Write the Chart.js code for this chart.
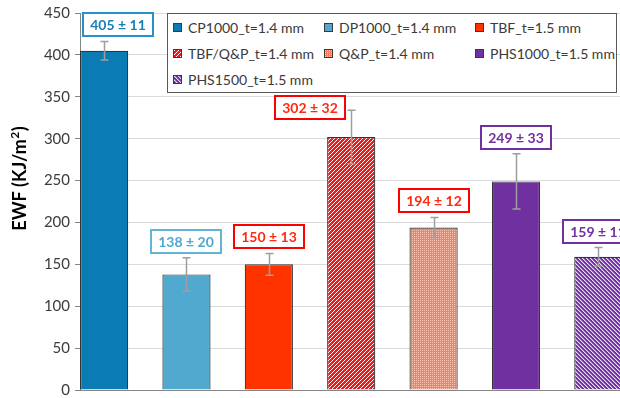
<!DOCTYPE html>
<html>
<head>
<meta charset="utf-8">
<script src="https://cdn.jsdelivr.net/npm/chart.js@4/dist/chart.umd.min.js"></script>
<style>
  html, body { margin: 0; padding: 0; background: #fff; overflow: hidden; }
  #wrap { position: relative; width: 620px; height: 398px; overflow: hidden; }
  #c { position: absolute; left: 0; top: 0; }
  #legend {
    position: absolute; left: 167px; top: 13px; width: 450px; height: 80px;
    box-sizing: border-box; border: 1px solid #595959; background: #fff;
    padding-left: 5px;
    display: grid; grid-template-columns: 151px 151px auto; grid-auto-rows: 26px;
    font: 14px Lato, sans-serif; color: #3a3a3a;
  }
  .item { display: flex; align-items: center; white-space: nowrap; }
  .sw { width: 7px; height: 7px; border: 1px solid #3a3a3a; margin-right: 6px; flex: none; }
</style>
</head>
<body>
<div id="wrap">
  <canvas id="c" width="656" height="398"></canvas>
  <div id="legend"></div>
</div>
<script>
// Steel grades and their essential work of fracture (kJ/m²) with scatter
const categories = ['CP1000_t=1.4 mm', 'DP1000_t=1.4 mm', 'TBF_t=1.5 mm', 'TBF/Q&P_t=1.4 mm',
                    'Q&P_t=1.4 mm', 'PHS1000_t=1.5 mm', 'PHS1500_t=1.5 mm'];
const ewf = [405, 138, 150, 302, 194, 249, 159];
const ewfError = [11, 20, 13, 32, 12, 33, 11];
const yTickValues = [0, 50, 100, 150, 200, 250, 300, 350, 400, 450];

// Fill tiles: solid colours and hatched patterns
function makeTile(base, size, pixel) {
  const c = document.createElement('canvas');
  c.width = c.height = size;
  const g = c.getContext('2d');
  g.fillStyle = base;
  g.fillRect(0, 0, size, size);
  if (pixel) {
    for (let y = 0; y < size; y++) {
      for (let x = 0; x < size; x++) {
        const col = pixel(x, y);
        if (col) { g.fillStyle = col; g.fillRect(x, y, 1, 1); }
      }
    }
  }
  return c;
}
const tiles = [
  makeTile('#0a7cb3', 4),
  makeTile('#51a9cf', 4),
  makeTile('#ff3300', 4),
  makeTile('#ff1414', 4, (x, y) => ((x + y) % 4 === 0 ? '#ffffff' : null)),
  makeTile('#ff7d5c', 4, (x, y) => ((x % 2 === 0 && y % 2 === 0) ? '#ffc2ae' : null)),
  makeTile('#7030a0', 4),
  makeTile('#7030a0', 4, (x, y) => {
    const k = (x - y + 8) % 4;
    return k === 0 ? '#e8dcf4' : (k === 1 ? '#a77bcf' : null);
  })
];
const cctx = document.getElementById('c').getContext('2d');
const fills = tiles.map(t => cctx.createPattern(t, 'repeat'));

const labelStyles = [
  { border: '#2791c9', text: '#1a7db5' },
  { border: '#62b4d9', text: '#4ea8d0' },
  { border: '#ff0000', text: '#ff2a10' },
  { border: '#ff0000', text: '#ff2a10' },
  { border: '#ff0000', text: '#ff2a10' },
  { border: '#7030a0', text: '#7030a0' },
  { border: '#7030a0', text: '#7030a0' }
];

// Legend
const legend = document.getElementById('legend');
categories.forEach((name, i) => {
  const item = document.createElement('div');
  item.className = 'item';
  const sw = document.createElement('span');
  sw.className = 'sw';
  sw.style.backgroundImage = 'url(' + tiles[i].toDataURL() + ')';
  const txt = document.createElement('span');
  txt.textContent = name;
  item.appendChild(sw);
  item.appendChild(txt);
  legend.appendChild(item);
});

// Error bars (value ± scatter)
const errorBars = {
  id: 'errorBars',
  afterDatasetsDraw(chart) {
    const { ctx, scales: { x, y } } = chart;
    ctx.save();
    ctx.strokeStyle = '#9e9e9e';
    ctx.lineWidth = 1.5;
    ewf.forEach((v, i) => {
      const px = Math.round(x.getPixelForValue(i)) + 0.5;
      const top = y.getPixelForValue(v + ewfError[i]);
      const bot = y.getPixelForValue(v - ewfError[i]);
      ctx.beginPath();
      ctx.moveTo(px, top); ctx.lineTo(px, bot);
      ctx.moveTo(px - 4, top); ctx.lineTo(px + 4, top);
      ctx.moveTo(px - 4, bot); ctx.lineTo(px + 4, bot);
      ctx.stroke();
    });
    ctx.restore();
  }
};

// Boxed value labels above the error bars; a box that would sit under the
// legend is moved below it, to the left of its error bar
const valueLabels = {
  id: 'valueLabels',
  afterDraw(chart) {
    const { ctx, chartArea, scales: { x, y } } = chart;
    const lg = legend.getBoundingClientRect();
    const cv = chart.canvas.getBoundingClientRect();
    const lgLeft = lg.left - cv.left, lgRight = lg.right - cv.left, lgBottom = lg.bottom - cv.top;
    ctx.save();
    ctx.font = 'bold 14px Lato, sans-serif';
    ctx.textAlign = 'center';
    ctx.textBaseline = 'middle';
    ewf.forEach((v, i) => {
      const text = v + ' \u00B1 ' + ewfError[i];
      const w = Math.round(ctx.measureText(text).width + 14);
      const h = 23;
      const barX = x.getPixelForValue(i);
      const capY = y.getPixelForValue(v + ewfError[i]);
      let cx = Math.max(barX, chartArea.left + 3 + w / 2);
      let top = capY - 5 - h;
      if (top < lgBottom && cx + w / 2 > lgLeft && cx - w / 2 < lgRight) {
        top = lgBottom + 3;
        cx = barX - 6 - w / 2;
      }
      const left = Math.round(cx - w / 2);
      top = Math.round(top);
      ctx.fillStyle = '#ffffff';
      ctx.fillRect(left, top, w, h);
      ctx.strokeStyle = labelStyles[i].border;
      ctx.lineWidth = 2;
      ctx.strokeRect(left, top, w, h);
      ctx.fillStyle = labelStyles[i].text;
      ctx.fillText(text, left + w / 2, top + h / 2 + 1);
    });
    ctx.restore();
  }
};

// Rotated y-axis title with superscript
const axisTitle = {
  id: 'axisTitle',
  afterDraw(chart) {
    const { ctx, chartArea } = chart;
    const main = 'EWF (KJ/m';
    const sup = '2';
    const tail = ')';
    ctx.save();
    ctx.fillStyle = '#000';
    ctx.textBaseline = 'alphabetic';
    ctx.textAlign = 'left';
    ctx.font = 'bold 18px Lato, sans-serif';
    const wMain = ctx.measureText(main).width;
    const wTail = ctx.measureText(tail).width;
    ctx.font = 'bold 12px Lato, sans-serif';
    const wSup = ctx.measureText(sup).width + 1;
    const total = wMain + wSup + wTail;
    ctx.translate(chartArea.left - 54, (chartArea.top + chartArea.bottom) / 2 - 23);
    ctx.rotate(-Math.PI / 2);
    let pos = -total / 2;
    ctx.font = 'bold 18px Lato, sans-serif';
    ctx.fillText(main, pos, 0); pos += wMain;
    ctx.font = 'bold 12px Lato, sans-serif';
    ctx.fillText(sup, pos + 0.5, -7); pos += wSup;
    ctx.font = 'bold 18px Lato, sans-serif';
    ctx.fillText(tail, pos, 0);
    ctx.restore();
  }
};

new Chart(cctx, {
  type: 'bar',
  data: {
    datasets: [{
      data: ewf.map((v, i) => ({ x: i, y: v })),
      backgroundColor: fills,
      borderColor: '#353535',
      borderWidth: 1.2,
      categoryPercentage: 1,
      barPercentage: 0.585
    }]
  },
  options: {
    responsive: false,
    animation: false,
    layout: { padding: { top: 13, left: 0, right: 0, bottom: 0 } },
    plugins: { legend: { display: false }, tooltip: { enabled: false } },
    scales: {
      x: {
        type: 'linear',
        offset: false,
        min: -0.2925,
        max: 6.7,
        afterBuildTicks(s) { s.ticks = categories.map((c, i) => ({ value: i })); },
        ticks: { display: false },
        grid: { display: false },
        border: { color: '#868686', width: 1 },
        afterFit(s) { s.height = 8; }
      },
      y: {
        min: 0,
        max: 450,
        afterBuildTicks(s) { s.ticks = yTickValues.map(v => ({ value: v })); },
        ticks: { font: { family: 'Lato', size: 15 }, color: '#3c3c3c', padding: 5 },
        grid: { color: '#dadada', tickLength: 5, tickColor: '#868686' },
        border: { color: '#868686', width: 1 },
        afterFit(s) { s.width = 80; s.paddingTop = 0; s.paddingBottom = 0; }
      }
    }
  },
  plugins: [errorBars, valueLabels, axisTitle]
});
</script>
</body>
</html>
